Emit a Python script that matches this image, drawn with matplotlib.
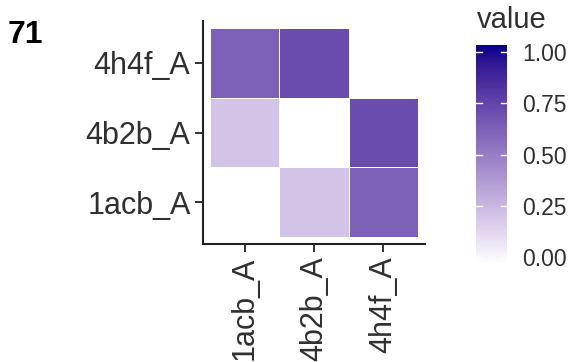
import numpy as np
import matplotlib
matplotlib.use("Agg")
import matplotlib.pyplot as plt
from matplotlib.colors import ListedColormap

plt.rcParams['font.family'] = ['Liberation Sans', 'DejaVu Sans']

# data
chains = ['1acb_A', '4b2b_A', '4h4f_A']
# rows = y (bottom to top), cols = x
values = np.array([
    [0.00, 0.22, 0.62],   # y = 1acb_A
    [0.22, 0.00, 0.70],   # y = 4b2b_A
    [0.62, 0.70, np.nan], # y = 4h4f_A
])
panel_tag = '71'
legend_ticks = [0.00, 0.25, 0.50, 0.75, 1.00]


def srgb_to_lab(rgb):
    rgb = np.asarray(rgb, float)
    lin = np.where(rgb <= 0.04045, rgb / 12.92, ((rgb + 0.055) / 1.055) ** 2.4)
    m = np.array([[0.4124, 0.3576, 0.1805],
                  [0.2126, 0.7152, 0.0722],
                  [0.0193, 0.1192, 0.9505]])
    xyz = m @ lin / np.array([0.95047, 1.0, 1.08883])
    f = np.where(xyz > 0.008856, np.cbrt(xyz), 7.787 * xyz + 16 / 116)
    return np.array([116 * f[1] - 16, 500 * (f[0] - f[1]), 200 * (f[1] - f[2])])


def lab_to_srgb(lab):
    L, a, b = lab
    fy = (L + 16) / 116
    fx = fy + a / 500
    fz = fy - b / 200
    f = np.array([fx, fy, fz])
    xyz = np.where(f ** 3 > 0.008856, f ** 3, (f - 16 / 116) / 7.787)
    xyz = xyz * np.array([0.95047, 1.0, 1.08883])
    mi = np.array([[3.2406, -1.5372, -0.4986],
                   [-0.9689, 1.8758, 0.0415],
                   [0.0557, -0.2040, 1.0570]])
    lin = mi @ xyz
    rgb = np.where(lin <= 0.0031308, 12.92 * lin, 1.055 * np.clip(lin, 0, None) ** (1 / 2.4) - 0.055)
    return np.clip(rgb, 0, 1)


# white -> darkblue gradient interpolated in Lab, like ggplot
lo = srgb_to_lab([1, 1, 1])
hi = srgb_to_lab([0, 0, 139 / 255])
cols = [lab_to_srgb(lo + (hi - lo) * t) for t in np.linspace(0, 1, 256)]
cmap = ListedColormap(cols)

fig = plt.figure(figsize=(5.74, 3.62), dpi=100)
W, H = 574, 362

ax = fig.add_axes([203 / W, (H - 244) / H, 222 / W, 223 / H])
x = np.arange(1, len(chains) + 1)
mesh = ax.pcolormesh(np.arange(0.5, len(chains) + 1), np.arange(0.5, len(chains) + 1),
                     np.ma.masked_invalid(values), cmap=cmap, vmin=0, vmax=1,
                     edgecolors='white', linewidth=0.6)
ax.set_xlim(0.4, 3.6)
ax.set_ylim(0.4, 3.6)
ax.set_xticks(x)
ax.set_xticklabels(chains, rotation=90)
ax.set_yticks(x)
ax.set_yticklabels(chains)
for s in ['top', 'right']:
    ax.spines[s].set_visible(False)
for s in ['left', 'bottom']:
    ax.spines[s].set_linewidth(1.5)
    ax.spines[s].set_color('#222222')
ax.tick_params(length=6, width=1.4, color='#333333', labelsize=22, labelcolor='#303030', pad=3)

# legend colorbar
cax = fig.add_axes([476 / W, (H - 264) / H, 31 / W, 219 / H])
grad = np.linspace(0, 1, 300).reshape(-1, 1)
cax.imshow(grad, aspect='auto', cmap=cmap, origin='lower', extent=[0, 1, -0.032, 1.032])
for t in legend_ticks:
    cax.plot([0, 0.2], [t, t], color='white', lw=1)
    cax.plot([0.8, 1], [t, t], color='white', lw=1)
cax.set_xlim(0, 1)
cax.set_ylim(-0.032, 1.032)
cax.set_xticks([])
cax.yaxis.tick_right()
cax.set_yticks(legend_ticks)
cax.set_yticklabels([f'{t:.2f}' for t in legend_ticks])
cax.tick_params(axis='y', length=0, labelsize=16.5, labelcolor='#303030', pad=11)
for s in cax.spines.values():
    s.set_visible(False)
fig.text(477 / W, 1 - 28 / H, 'value', fontsize=21, color='#303030', va='baseline', ha='left')

fig.text(8 / W, 1 - 43 / H, panel_tag, fontsize=23, fontweight='bold', va='baseline', ha='left')

fig.savefig('out.png', dpi=100)
